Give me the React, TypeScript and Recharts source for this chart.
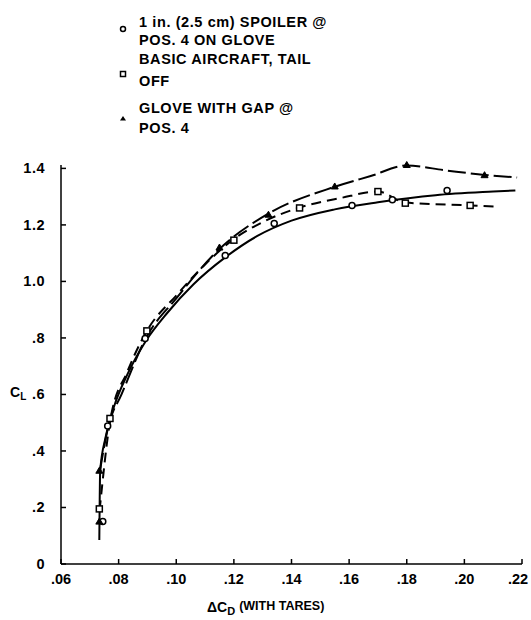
import React from 'react';
import { ScatterChart, Scatter, XAxis, YAxis } from 'recharts';

// marker points
const spoilerPts = [
  { x: 0.0745, y: 0.15 }, { x: 0.0762, y: 0.488 }, { x: 0.0892, y: 0.798 },
  { x: 0.117, y: 1.092 }, { x: 0.134, y: 1.205 }, { x: 0.161, y: 1.269 },
  { x: 0.175, y: 1.289 }, { x: 0.194, y: 1.322 },
];
const basicPts = [
  { x: 0.0733, y: 0.195 }, { x: 0.077, y: 0.515 }, { x: 0.0898, y: 0.825 },
  { x: 0.12, y: 1.146 }, { x: 0.1428, y: 1.26 }, { x: 0.17, y: 1.318 },
  { x: 0.1795, y: 1.277 }, { x: 0.202, y: 1.269 },
];
const glovePts = [
  { x: 0.0733, y: 0.15 }, { x: 0.0733, y: 0.33 }, { x: 0.115, y: 1.12 },
  { x: 0.132, y: 1.236 }, { x: 0.155, y: 1.336 }, { x: 0.18, y: 1.412 },
  { x: 0.207, y: 1.376 },
];

// faired curves
const spoilerCurve = [
  { x: 0.0733, y: 0.085 }, { x: 0.0736, y: 0.33 }, { x: 0.0755, y: 0.45 },
  { x: 0.0785, y: 0.56 }, { x: 0.083, y: 0.67 }, { x: 0.0895, y: 0.79 },
  { x: 0.097, y: 0.89 }, { x: 0.106, y: 0.99 }, { x: 0.117, y: 1.085 },
  { x: 0.128, y: 1.16 }, { x: 0.14, y: 1.215 }, { x: 0.155, y: 1.255 },
  { x: 0.17, y: 1.28 }, { x: 0.19, y: 1.305 }, { x: 0.21, y: 1.318 },
  { x: 0.2177, y: 1.322 },
];
const basicCurve = [
  { x: 0.0734, y: 0.19 }, { x: 0.0772, y: 0.515 }, { x: 0.083, y: 0.68 },
  { x: 0.0898, y: 0.825 }, { x: 0.1, y: 0.95 }, { x: 0.11, y: 1.06 },
  { x: 0.12, y: 1.15 }, { x: 0.13, y: 1.21 }, { x: 0.143, y: 1.262 },
  { x: 0.157, y: 1.295 }, { x: 0.17, y: 1.318 }, { x: 0.1795, y: 1.279 },
  { x: 0.202, y: 1.269 }, { x: 0.2115, y: 1.265 },
];
const gloveCurve = [
  { x: 0.0735, y: 0.33 }, { x: 0.0765, y: 0.49 }, { x: 0.081, y: 0.6 },
  { x: 0.0895, y: 0.8 }, { x: 0.1, y: 0.94 }, { x: 0.115, y: 1.115 },
  { x: 0.132, y: 1.24 }, { x: 0.155, y: 1.335 }, { x: 0.1675, y: 1.373 },
  { x: 0.18, y: 1.41 }, { x: 0.1935, y: 1.393 }, { x: 0.207, y: 1.377 },
  { x: 0.2183, y: 1.368 },
];

const xTicks = [0.06, 0.08, 0.1, 0.12, 0.14, 0.16, 0.18, 0.2, 0.22];
const xTickLabels = ['.06', '.08', '.10', '.12', '.14', '.16', '.18', '.20', '.22'];
const yTicks = [0, 0.2, 0.4, 0.6, 0.8, 1.0, 1.2, 1.4];
const yTickLabels = ['0', '.2', '.4', '.6', '.8', '1.0', '1.2', '1.4'];

const legendLines = [
  ['1 in. (2.5 cm) SPOILER @', 'POS. 4 ON GLOVE'],
  ['BASIC AIRCRAFT, TAIL', 'OFF'],
  ['GLOVE WITH GAP @', 'POS. 4'],
];

const FONT = '"Liberation Sans", Arial, sans-serif';
const AX_L = 61;
const AX_B = 564;

const Circle = (p: any) => <circle cx={p.cx} cy={p.cy} r={3} fill="#fff" stroke="#000" strokeWidth={1.5} />;
const Square = (p: any) => <rect x={p.cx - 3} y={p.cy - 3} width={6} height={6} fill="#fff" stroke="#000" strokeWidth={1.5} />;
const Tri = (p: any) => (
  <path d={`M${p.cx},${p.cy - 3.5}L${p.cx + 3.5},${p.cy + 2.5}L${p.cx - 3.5},${p.cy + 2.5}Z`} fill="#000" stroke="#000" strokeWidth={1} />
);
const NoDot = () => <g />;

const XTick = (p: any) => {
  const i = xTicks.findIndex((t) => Math.abs(t - p.payload.value) < 1e-6);
  // last label sits at the page edge, nudge it in a bit
  const dx = i === xTicks.length - 1 ? -4 : 0;
  return (
    <g>
      <line x1={p.x} x2={p.x} y1={AX_B} y2={AX_B - 5} stroke="#000" strokeWidth={1.5} />
      <text x={p.x + dx} y={AX_B + 15} textAnchor="middle" dominantBaseline="central" fontFamily={FONT} fontWeight="bold" fontSize={14.5} fill="#000">
        {xTickLabels[i]}
      </text>
    </g>
  );
};

const YTick = (p: any) => {
  const i = yTicks.findIndex((t) => Math.abs(t - p.payload.value) < 1e-6);
  return (
    <g>
      <line x1={AX_L} x2={AX_L + 5} y1={p.y} y2={p.y} stroke="#000" strokeWidth={1.5} />
      <text x={AX_L - 16} y={p.y} textAnchor="end" dominantBaseline="central" fontFamily={FONT} fontWeight="bold" fontSize={14.5} letterSpacing={0.5} fill="#000">
        {yTickLabels[i]}
      </text>
    </g>
  );
};

export default function App() {
  return (
    <div style={{ position: 'absolute', left: 0, top: 0, width: 531, height: 620, background: '#fff' }}>
      <ScatterChart width={531} height={620} margin={{ top: 165, right: 9, left: 0, bottom: 0 }}>
        <XAxis type="number" dataKey="x" domain={[0.06, 0.22]} ticks={xTicks} height={56}
          axisLine={{ stroke: '#000', strokeWidth: 1.5 }} tickLine={false} tick={<XTick />} interval={0} />
        <YAxis type="number" dataKey="y" domain={[0, 1.4]} ticks={yTicks} width={61}
          axisLine={{ stroke: '#000', strokeWidth: 1.5 }} tickLine={false} tick={<YTick />} interval={0} />
        <Scatter data={spoilerCurve} line={{ stroke: '#000', strokeWidth: 2 }} lineJointType="monotoneX" shape={<NoDot />} isAnimationActive={false} />
        <Scatter data={basicCurve} line={{ stroke: '#000', strokeWidth: 2, strokeDasharray: '10 6' }} lineJointType="monotoneX" shape={<NoDot />} isAnimationActive={false} />
        <Scatter data={gloveCurve} line={{ stroke: '#000', strokeWidth: 2, strokeDasharray: '18 5' }} lineJointType="monotoneX" shape={<NoDot />} isAnimationActive={false} />
        <Scatter data={spoilerPts} shape={<Circle />} isAnimationActive={false} />
        <Scatter data={basicPts} shape={<Square />} isAnimationActive={false} />
        <Scatter data={glovePts} shape={<Tri />} isAnimationActive={false} />
      </ScatterChart>
      <svg width={531} height={620} style={{ position: 'absolute', left: 0, top: 0, pointerEvents: 'none' }}>
        <g fontFamily={FONT} fontWeight="bold" fontSize={14.5} letterSpacing={0.6} fill="#000">
          <text x={139} y={22} dominantBaseline="central">{legendLines[0][0]}</text>
          <text x={139} y={40} dominantBaseline="central">{legendLines[0][1]}</text>
          <text x={139} y={59} dominantBaseline="central">{legendLines[1][0]}</text>
          <text x={139} y={81} dominantBaseline="central">{legendLines[1][1]}</text>
          <text x={139} y={108} dominantBaseline="central">{legendLines[2][0]}</text>
          <text x={139} y={128} dominantBaseline="central">{legendLines[2][1]}</text>
        </g>
        <g fontFamily={FONT} fontWeight="bold" fontSize={13} fill="#000">
          <text x={10} y={392} dominantBaseline="central" fontSize={14}>C<tspan fontSize={10} dy={4}>L</tspan></text>
          <text x={207} y={607} dominantBaseline="central" fontSize={14}>ΔC<tspan fontSize={11} dy={4}>D</tspan><tspan fontSize={12.5} dy={-5} dx={4}>(WITH TARES)</tspan></text>
        </g>
        <circle cx={123} cy={29} r={2.5} fill="#fff" stroke="#000" strokeWidth={1.5} />
        <rect x={120.5} y={71.5} width={5} height={5} fill="#fff" stroke="#000" strokeWidth={1.5} />
        <path d="M123,116L126,120.5L120,120.5Z" fill="#000" />
      </svg>
    </div>
  );
}
